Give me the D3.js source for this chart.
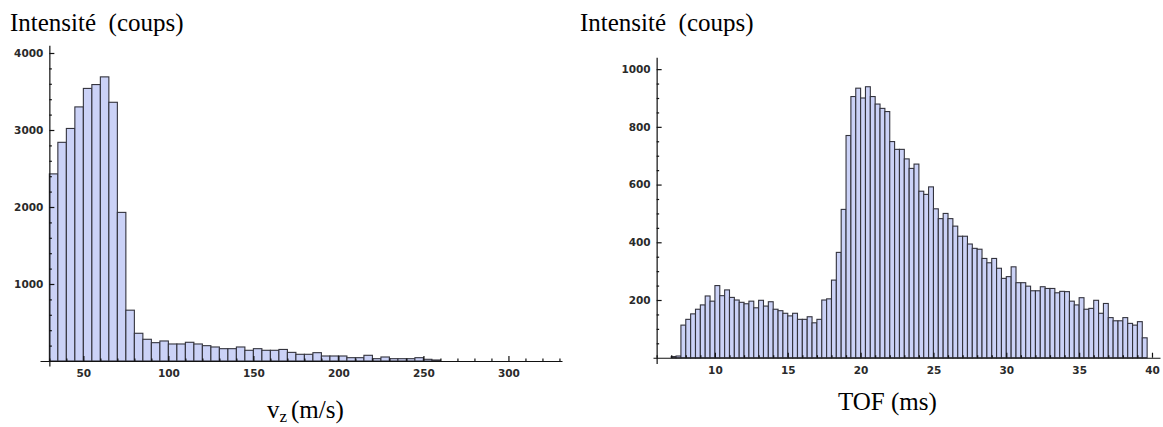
<!DOCTYPE html>
<html><head><meta charset="utf-8">
<script src="https://cdn.jsdelivr.net/npm/d3@7"></script>
<style>body{margin:0;background:#fff} svg{display:block}</style>
</head><body>
<svg id="c" width="1163" height="427"></svg>
<script>
// ---- Left histogram: v_z (m/s)
const vzBinStart = 30;
const vzBinWidth = 5;
const vzCounts = [2430,2840,3020,3300,3540,3590,3690,3360,1930,660,
                  360,282,238,260,221,221,243,221,199,182,
                  160,160,182,139,160,139,139,150,112,87,
                  87,108,65,65,65,43,43,74,30,52,
                  30,30,30,43,22,13];
const vzXTicks = [50,100,150,200,250,300];
const vzYTicks = [1000,2000,3000,4000];

// ---- Right histogram: TOF (ms)
const tofBinStart = 7;
const tofBinWidth = 1/3;
const tofCounts = [4,6,
  113,133,152,168,183,214,196,250,215,235,
  209,200,192,187,196,173,199,179,194,168,
  163,154,145,154,133,133,142,121,133,200,
  204,269,365,514,770,905,934,900,939,905,
  879,864,853,749,722,722,689,656,671,577,
  566,592,516,482,500,482,456,421,421,394,
  379,376,344,329,344,310,275,281,315,260,
  260,248,232,232,246,240,240,225,230,229,
  196,183,208,168,171,199,154,188,139,128,
  128,139,119,113,125,69];
const tofXTicks = [10,15,20,25,30,35,40];
const tofYTicks = [200,400,600,800,1000];

const yTitle = "Intensité  (coups)";

const svg = d3.select('#c');
const BAR_FILL = '#cbd2f7', BAR_STROKE = '#33333d', AXIS = '#111';

function panel(o) {
  const g = svg.append('g');
  const x = d3.scaleLinear().domain(o.xDomain).range(o.xRange);
  const y = d3.scaleLinear().domain(o.yDomain).range(o.yRange);
  // bars
  g.append('g').selectAll('rect').data(o.counts).join('rect')
    .attr('x', (d,i) => x(o.binStart + i*o.binWidth))
    .attr('width', (d,i) => x(o.binStart + (i+1)*o.binWidth) - x(o.binStart + i*o.binWidth))
    .attr('y', d => y(d))
    .attr('height', d => y(0) - y(d))
    .attr('fill', BAR_FILL)
    .attr('stroke', BAR_STROKE)
    .attr('stroke-width', 1.1);
  // x axis: minor ticks
  g.append('g').attr('transform', `translate(0,${y(0)})`)
    .call(d3.axisBottom(x).tickValues(o.xMinor).tickSize(-2.5).tickFormat(''))
    .call(s => s.select('.domain').remove());
  // x axis: major
  g.append('g').attr('transform', `translate(0,${y(0)})`)
    .call(d3.axisBottom(x).tickValues(o.xTicks).tickSizeInner(-5).tickSizeOuter(0).tickPadding(9).tickFormat(d3.format('d')));
  // y axis minor
  g.append('g').attr('transform', `translate(${x(o.yAxisAt)},0)`)
    .call(d3.axisLeft(y).tickValues(o.yMinor).tickSize(-2.5).tickFormat(''))
    .call(s => s.select('.domain').remove());
  g.append('g').attr('transform', `translate(${x(o.yAxisAt)},0)`)
    .call(d3.axisLeft(y).tickValues(o.yTicks).tickSizeInner(-5).tickSizeOuter(0).tickPadding(6).tickFormat(d3.format('d')));
  g.selectAll('.domain, .tick line').attr('stroke', AXIS).attr('stroke-width', 1.2);
  g.selectAll('.tick text').attr('font-family', 'DejaVu Sans, sans-serif').attr('font-size', 10.5)
    .attr('font-weight', 'bold').attr('fill', '#2a2a2a');
  // titles
  g.append('text').attr('x', o.titleX).attr('y', 31)
    .attr('font-family', 'Liberation Serif, Times New Roman, serif').attr('font-size', 25)
    .attr('fill', '#000').style('white-space', 'pre').text(yTitle);
  o.xLabel(g);
}

panel({
  counts: vzCounts, binStart: vzBinStart, binWidth: vzBinWidth,
  xDomain: [24.5, 331.5], xRange: [40, 562],
  yDomain: [-65, 4100], yRange: [366, 45.3],
  yAxisAt: 30,
  xTicks: vzXTicks, xMinor: d3.range(30, 331, 10).filter(v => v % 50 !== 0),
  yTicks: vzYTicks, yMinor: d3.range(200, 4100, 200).filter(v => v % 1000 !== 0),
  titleX: 10,
  xLabel: g => {
    const t = g.append('text').attr('x', 267).attr('y', 418)
      .attr('font-family', 'Liberation Serif, Times New Roman, serif').attr('font-size', 25).attr('fill', '#000');
    t.append('tspan').text('v');
    t.append('tspan').attr('font-size', 17).attr('dy', 4).text('z');
    t.append('tspan').attr('dy', -4).attr('dx', 4).text('(m/s)');
  }
});

panel({
  counts: tofCounts, binStart: tofBinStart, binWidth: tofBinWidth,
  xDomain: [5.75, 40.55], xRange: [653, 1160],
  yDomain: [-20, 1041], yRange: [363.5, 57.3],
  yAxisAt: 6,
  xTicks: tofXTicks, xMinor: d3.range(6, 41, 1).filter(v => v % 5 !== 0),
  yTicks: tofYTicks, yMinor: d3.range(50, 1041, 50).filter(v => v % 200 !== 0),
  titleX: 580,
  xLabel: g => {
    g.append('text').attr('x', 838).attr('y', 410)
      .attr('font-family', 'Liberation Serif, Times New Roman, serif').attr('font-size', 25).attr('fill', '#000')
      .text('TOF (ms)');
  }
});
</script>
</body></html>
